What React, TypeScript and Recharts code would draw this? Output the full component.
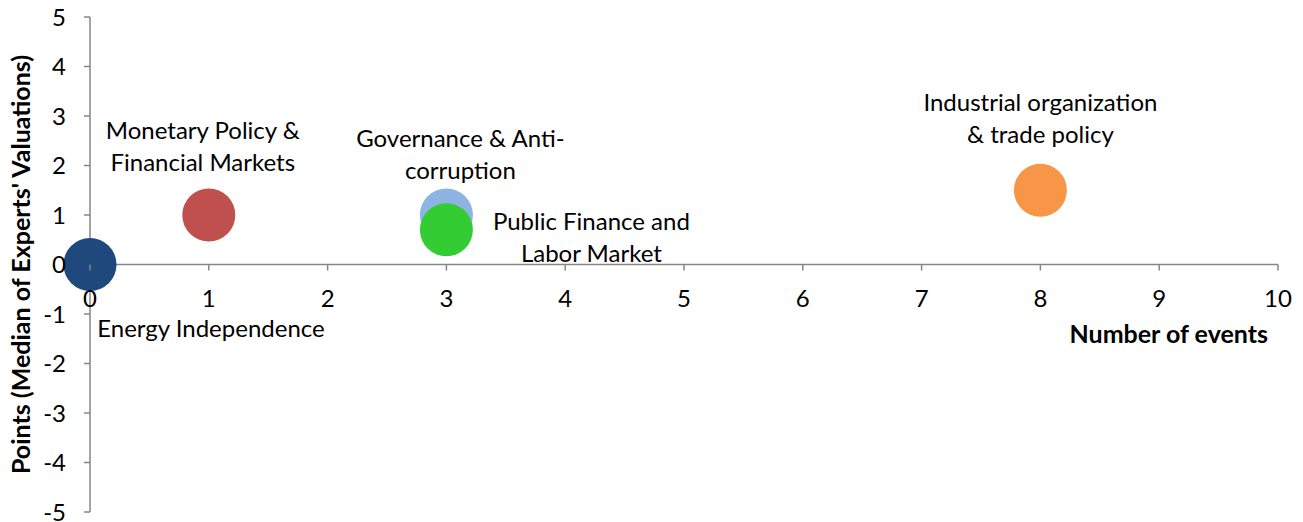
import { ScatterChart, Scatter, XAxis, YAxis, ReferenceLine } from 'recharts';

// topics, in drawing order (green drawn after light blue so it sits on top)
const topics = [
    'Energy Independence',
    'Monetary Policy & Financial Markets',
    'Governance & Anti-corruption',
    'Public Finance and Labor Market',
    'Industrial organization & trade policy',
];
const numberOfEvents = [0, 1, 3, 3, 8];
const medianPoints = [0, 1, 1, 0.7, 1.5];
const topicLabelLines = [
    ['Energy Independence'],
    ['Monetary Policy &', 'Financial Markets'],
    ['Governance & Anti-', 'corruption'],
    ['Public Finance and', 'Labor Market'],
    ['Industrial organization', '& trade policy'],
];
const xTicks = [0, 1, 2, 3, 4, 5, 6, 7, 8, 9, 10];
const yTicks = [-5, -4, -3, -2, -1, 0, 1, 2, 3, 4, 5];

// styling
const colors = ['#1F497D', '#C0504D', '#8DB4E2', '#33CC33', '#F79646'];
const labelOffsets = [
    { dx: 121, dy: 72 },
    { dx: -6, dy: -76 },
    { dx: 14, dy: -68 },
    { dx: 145, dy: 0 },
    { dx: 0, dy: -79 },
];
const FONT = 'Lato, "Open Sans", sans-serif';
const FS = 24;
const AXIS = '#868686';
const W = 1303;
const H = 522;
const MARGIN = { top: 17, right: 25, bottom: 5, left: 0 };
const X_AXIS_H = 5;
const PLOT_H = H - MARGIN.top - MARGIN.bottom - X_AXIS_H;
const ZERO_Y = MARGIN.top + PLOT_H / 2; // x axis crosses at y = 0
const BUBBLE_R = 26.5;

const XTick = (props: any) => {
    const { x, payload } = props;
    return (
        <g>
            <line x1={x} y1={ZERO_Y} x2={x} y2={ZERO_Y + 6} stroke={AXIS} strokeWidth={1.5} />
            <text x={x} y={ZERO_Y + 42} textAnchor="middle" fontFamily={FONT} fontSize={FS} fill="#000">
                {payload.value}
            </text>
        </g>
    );
};

const makeBubble = (i: number) => (props: any) => {
    const { cx, cy } = props;
    const lines = topicLabelLines[i];
    const off = labelOffsets[i];
    return (
        <g>
            <circle cx={cx} cy={cy} r={BUBBLE_R} fill={colors[i]} />
            <text textAnchor="middle" fontFamily={FONT} fontSize={FS} fill="#000">
                {lines.map((l, k) => (
                    <tspan key={k} x={cx + off.dx} y={cy + off.dy + k * 32}>
                        {l}
                    </tspan>
                ))}
            </text>
        </g>
    );
};

export default function App() {
    return (
        <div style={{ position: 'absolute', left: 0, top: 0, width: W, height: H, background: '#fff' }}>
            <ScatterChart width={W} height={H} margin={MARGIN} style={{ overflow: 'visible' }}>
                <XAxis
                    type="number"
                    dataKey="x"
                    domain={[0, 10]}
                    ticks={xTicks}
                    interval={0}
                    height={X_AXIS_H}
                    axisLine={false}
                    tickLine={false}
                    tick={XTick}
                />
                <YAxis
                    type="number"
                    dataKey="y"
                    domain={[-5, 5]}
                    ticks={yTicks}
                    interval={0}
                    width={90}
                    axisLine={{ stroke: AXIS, strokeWidth: 1.5 }}
                    tickLine={{ stroke: AXIS, strokeWidth: 1.5 }}
                    tickSize={6}
                    tickMargin={18}
                    tick={{ fill: '#000', fontSize: FS, fontFamily: FONT }}
                    label={{
                        content: (p: any) => {
                            const vb = p.viewBox || {};
                            const cy = (vb.y ?? MARGIN.top) + (vb.height ?? PLOT_H) / 2;
                            return (
                                <text
                                    x={30}
                                    y={cy}
                                    transform={`rotate(-90 30 ${cy})`}
                                    textAnchor="middle"
                                    fontFamily={FONT}
                                    fontWeight="bold"
                                    fontSize={25}
                                    fill="#000"
                                >
                                    Points (Median of Experts' Valuations)
                                </text>
                            );
                        },
                    }}
                />
                <ReferenceLine
                    y={0}
                    stroke={AXIS}
                    strokeWidth={1.5}
                    label={{
                        content: (p: any) => {
                            const vb = p.viewBox || {};
                            return (
                                <text
                                    x={(vb.x ?? 90) + (vb.width ?? 1188) - 10}
                                    y={(vb.y ?? ZERO_Y) + 78}
                                    textAnchor="end"
                                    fontFamily={FONT}
                                    fontWeight="bold"
                                    fontSize={25}
                                    fill="#000"
                                >
                                    Number of events
                                </text>
                            );
                        },
                    }}
                />
                {topics.map((t, i) => (
                    <Scatter
                        key={t}
                        name={t}
                        data={[{ x: numberOfEvents[i], y: medianPoints[i] }]}
                        fill={colors[i]}
                        shape={makeBubble(i)}
                        isAnimationActive={false}
                    />
                ))}
            </ScatterChart>
        </div>
    );
}
